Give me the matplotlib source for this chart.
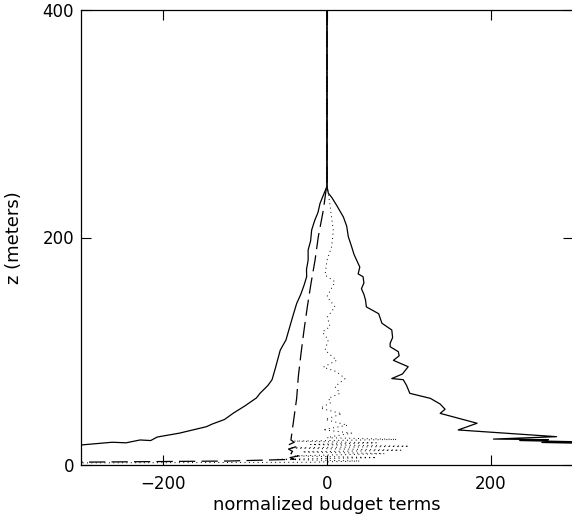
import matplotlib
matplotlib.use("Agg")
import matplotlib.pyplot as plt

# budget term profiles, z in meters, terms normalized
# negative branch (solid)
z_neg = [10, 17.6, 20, 19.5, 22, 21.5, 24.6, 28, 33.7, 36, 40, 45.7, 52, 59, 63, 70, 75, 85, 93, 101,
         110, 120, 130, 142, 150, 158, 165.5, 172, 180, 189, 197, 206.6, 215, 222, 230, 238, 245, 400]
x_neg = [-500, -300, -262, -245, -228, -215, -207, -180, -147, -140, -125, -114, -100, -86, -81.7, -72,
         -67, -63, -60, -57, -50, -46, -42, -37, -32, -28, -24.8, -25, -23, -23, -20, -18.7, -15, -11,
         -8.5, -4, 0, 0]

# positive branch (solid)
z_pos = [16, 17.5, 19, 19.8, 20.5, 21.5, 22.3, 22.8, 24.9, 30.8, 36.7, 45.4, 49, 53.6, 58.6, 63, 70,
         75, 76, 80, 86.4, 92, 96, 99.6, 104, 107, 112, 118.7, 124.6, 133, 139, 145, 150, 155, 160,
         165.5, 168, 174, 185, 192, 200.7, 210, 218, 228, 235, 239, 245, 400]
x_pos = [400, 300, 320, 262, 300, 235, 270, 203, 280, 160, 183, 138, 144, 138, 126, 101, 97, 93, 79,
         92, 99, 81, 88, 87, 77, 77, 80, 79, 67, 63, 48, 47, 45, 42, 45, 44, 38, 40, 33, 30, 26, 24,
         20, 12, 6, 1.6, 0, 0]

# dashed term
z_dash = [2.0, 2.5, 3.5, 5, 6.5, 8, 10, 12, 14, 16, 18, 20, 22, 58.6, 77.6, 98, 118.7, 139, 159.7,
          180, 200.7, 224, 247.6, 400]
x_dash = [-420, -300, -120, -40, -45, -35, -44, -42, -47, -38, -46, -40, -44, -37, -35, -31.7, -28,
          -24, -19.5, -14.6, -10.6, -4.5, 0, 0]

# dotted term
z_dot = [1.8, 2.4, 3.5, 5, 6.5, 8, 10, 11.5, 13, 15, 16.5, 18, 19.5, 21, 22.5, 24, 25.5, 28, 31, 35,
         40, 45, 50, 55, 58.6, 63, 69, 76, 82, 86, 92, 101, 110, 117, 121.6, 130, 139, 148, 161, 167,
         180, 192, 206, 233, 246, 400]
x_dot = [-330, -20, 40, -60, 60, -40, 70, -30, 90, -45, 100, -20, 60, -40, 85, 0, 10, 30, -5, 25,
         -2, 18, -8, 5, 1.6, 15.8, 9.8, 22, 11.8, -4.5, 11.8, -2.4, 1.6, -5.7, 3.7, 0.4, 9.8, 0, 9.8,
         -2.4, 0, 5.7, 7.7, 2.8, 0, 0]

plt.rcParams['font.family'] = ['DejaVu Sans']
plt.rcParams['font.size'] = 12

fig = plt.figure(figsize=(5.72, 5.16), dpi=100)
ax = fig.add_axes([81 / 572, 51 / 516, 492 / 572, 455 / 516])

ax.plot(x_neg, z_neg, color='black', lw=0.9)
ax.plot(x_pos, z_pos, color='black', lw=0.9)
ax.plot(x_dash, z_dash, color='black', lw=0.9, dashes=(13, 5))
ax.plot(x_dot, z_dot, color='black', lw=0.7, dashes=(1, 3.5))

ax.set_xlim(-300, 300)
ax.set_ylim(0, 400)
ax.set_xticks([-200, 0, 200])
ax.set_yticks([0, 200, 400])
ax.tick_params(direction='in', length=7, width=0.8, top=True, right=True)
ax.tick_params(axis='x', pad=7)
ax.tick_params(axis='y', pad=5)
for s in ax.spines.values():
    s.set_linewidth(0.9)

ax.set_xlabel('normalized budget terms', fontsize=13, labelpad=2)
ax.set_ylabel('z (meters)', fontsize=13, labelpad=14)

fig.savefig('out.png', dpi=100)
